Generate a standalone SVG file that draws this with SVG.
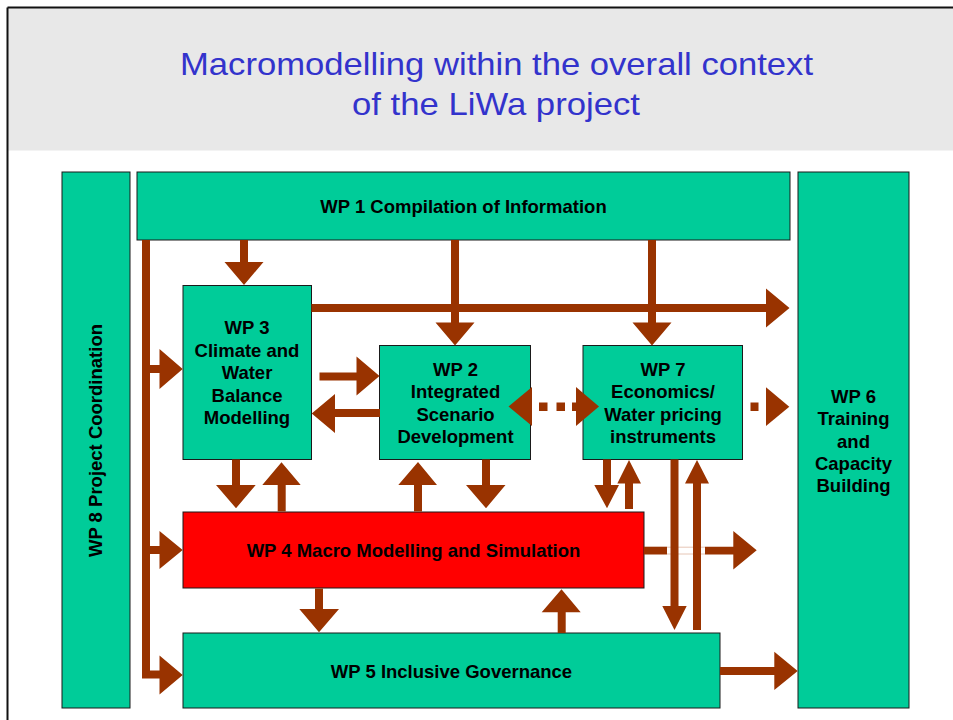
<svg xmlns="http://www.w3.org/2000/svg" width="953" height="720" viewBox="0 0 953 720">
  <style>
    .box { fill: #00cc99; stroke: #1a1a1a; stroke-width: 1; }
    .red { fill: #ff0000; stroke: #1a1a1a; stroke-width: 1; }
    .lbl { font-family: "Liberation Sans", Arial, sans-serif; font-weight: bold; font-size: 18.5px; fill: #000; text-anchor: middle; }
    .title { font-family: "Liberation Sans", Arial, sans-serif; font-size: 32px; fill: #3333cc; text-anchor: middle; }
    .arr { fill: #993300; }
    .faint { stroke: #e6c6b6; stroke-width: 1; fill: none; }
  </style>

  <!-- page background and header band -->
  <rect x="0" y="0" width="953" height="720" fill="#ffffff"/>
  <rect x="8" y="8" width="945" height="142.5" fill="#e8e8e8"/>
  <line x1="7.5" y1="7.5" x2="953" y2="7.5" stroke="#111" stroke-width="2"/>
  <line x1="7.5" y1="7.5" x2="7.5" y2="720" stroke="#111" stroke-width="2"/>

  <g id="title">
    <text class="title" x="496.5" y="75" textLength="633" lengthAdjust="spacingAndGlyphs">Macromodelling within the overall context</text>
    <text class="title" x="496" y="115" textLength="288" lengthAdjust="spacingAndGlyphs">of the LiWa project</text>
  </g>

  <!-- work packages -->
  <g id="wp8">
    <rect class="box" x="62" y="172" width="68" height="536"/>
    <text class="lbl" transform="translate(102 440.5) rotate(-90)" x="0" y="0">WP 8 Project Coordination</text>
  </g>
  <g id="wp1">
    <rect class="box" x="137" y="172" width="653" height="68"/>
    <text class="lbl" x="463.5" y="213">WP 1 Compilation of Information</text>
  </g>
  <g id="wp6">
    <rect class="box" x="798" y="172" width="111" height="536"/>
    <text class="lbl" x="853.5" y="402.5">WP 6</text>
    <text class="lbl" x="853.5" y="425">Training</text>
    <text class="lbl" x="853.5" y="447.5">and</text>
    <text class="lbl" x="853.5" y="470">Capacity</text>
    <text class="lbl" x="853.5" y="492">Building</text>
  </g>
  <g id="wp3">
    <rect class="box" x="183" y="285.5" width="128.5" height="174"/>
    <text class="lbl" x="247" y="334">WP 3</text>
    <text class="lbl" x="247" y="356.5">Climate and</text>
    <text class="lbl" x="247" y="379">Water</text>
    <text class="lbl" x="247" y="401.5">Balance</text>
    <text class="lbl" x="247" y="424">Modelling</text>
  </g>
  <g id="wp2">
    <rect class="box" x="379.5" y="345.5" width="151" height="114"/>
    <text class="lbl" x="455.5" y="375.5">WP 2</text>
    <text class="lbl" x="455.5" y="398">Integrated</text>
    <text class="lbl" x="455.5" y="420.5">Scenario</text>
    <text class="lbl" x="455.5" y="443">Development</text>
  </g>
  <g id="wp7">
    <rect class="box" x="583" y="345.5" width="159.5" height="114"/>
    <text class="lbl" x="663" y="375.5">WP 7</text>
    <text class="lbl" x="663" y="398">Economics/</text>
    <text class="lbl" x="663" y="420.5">Water pricing</text>
    <text class="lbl" x="663" y="443">instruments</text>
  </g>
  <g id="wp4">
    <rect class="red" x="183" y="512" width="461" height="76"/>
    <text class="lbl" x="413.5" y="556.5">WP 4 Macro Modelling and Simulation</text>
  </g>
  <g id="wp5">
    <rect class="box" x="183" y="633" width="537" height="75"/>
    <text class="lbl" x="451.5" y="678">WP 5 Inclusive Governance</text>
  </g>

  <!-- block arrows between work packages -->
  <g id="connectors">
    <!-- WP1 trunk down the left side, branching into WP3, WP4, WP5 -->
    <path class="arr" d="M142,240 H150 V365 H159.5 V349 L182.7,369 L159.5,389 V373 H150 V546 H159.5 V531 L182.7,550 L159.5,569 V554 H150 V670.5 H159.5 V655.5 L182.7,675 L159.5,694.5 V678.5 H142 Z"/>
    <!-- WP1 -> WP3 -->
    <path class="arr" d="M240,240 H248 V262 H263.5 L244,285 L224.5,262 H240 Z"/>
    <!-- WP3 -> WP6 -->
    <path class="arr" d="M311.5,304 H766 V288.5 L789.5,308 L766,327.5 V312 H311.5 Z"/>
    <!-- WP1 -> WP2 -->
    <path class="arr" d="M451,240 H459 V322.5 H474.5 L455,345.5 L435.5,322.5 H451 Z"/>
    <!-- WP1 -> WP7 -->
    <path class="arr" d="M648,240 H656 V322.5 H671.5 L652,345.5 L632.5,322.5 H648 Z"/>
    <!-- WP3 -> WP2 -->
    <path class="arr" d="M319.5,372.5 H356.5 V356.5 L379.5,376 L356.5,395.5 V380.5 H319.5 Z"/>
    <!-- WP2 -> WP3 -->
    <path class="arr" d="M380,409 H335 V394 L311.7,413.5 L335,433 V417 H380 Z"/>
    <!-- WP2 <-> WP7, dotted -->
    <path class="arr" d="M532,387 L508.5,406.5 L532,426 Z"/>
    <rect class="arr" x="539" y="402.5" width="8.5" height="8.5"/>
    <rect class="arr" x="556.5" y="402.5" width="8.5" height="8.5"/>
    <rect class="arr" x="572" y="402.5" width="4.5" height="8.5"/>
    <path class="arr" d="M576,387 L599,406.5 L576,426 Z"/>
    <!-- WP7 -> WP6, dotted -->
    <rect class="arr" x="750.5" y="402.5" width="8" height="8.5"/>
    <path class="arr" d="M766,387.3 L789.3,406.7 L766,426 Z"/>
    <!-- WP3 -> WP4 -->
    <path class="arr" d="M232,459.5 H240 V485 H255.7 L236,508.3 L216,485 H232 Z"/>
    <!-- WP4 -> WP3 -->
    <path class="arr" d="M277.7,511.5 H285.7 V485 H300.7 L281.5,462.3 L262.3,485 H277.7 Z"/>
    <!-- WP4 -> WP2 -->
    <path class="arr" d="M414,511.5 H422 V485 H437 L418,462 L398.3,485 H414 Z"/>
    <!-- WP2 -> WP4 -->
    <path class="arr" d="M482,459.5 H490 V485 H505.5 L486,508.3 L466,485 H482 Z"/>
    <!-- WP7 -> WP4 -->
    <path class="arr" d="M603,459.5 H611 V485 H619 L607,508.3 L594.3,485 H603 Z"/>
    <!-- WP4 -> WP7 -->
    <path class="arr" d="M625,509 H633 V483.5 H641 L629,460 L617.3,483.5 H625 Z"/>
    <!-- WP4 -> WP6, passing behind the long vertical arrows -->
    <rect class="arr" x="644" y="546.7" width="23" height="7.8"/>
    <line class="faint" x1="667" y1="547.2" x2="705" y2="547.2"/>
    <line class="faint" x1="667" y1="554" x2="705" y2="554"/>
    <path class="arr" d="M705,546.7 H733.3 V531 L756.7,550.3 L733.3,569.5 V554.5 H705 Z"/>
    <!-- WP7 -> WP5 -->
    <path class="arr" d="M670.5,459.5 H678.5 V606 H686.7 L674.5,630 L662.3,606 H670.5 Z"/>
    <!-- WP5 -> WP7 -->
    <path class="arr" d="M693,630 H701 V483.5 H709 L697,460 L685,483.5 H693 Z"/>
    <!-- WP4 -> WP5 -->
    <path class="arr" d="M315,588.5 H323 V609 H339 L319,632.3 L299.3,609 H315 Z"/>
    <!-- WP5 -> WP4 -->
    <path class="arr" d="M557.7,633 H565.7 V612.3 H580.7 L561.5,589.3 L541.7,612.3 H557.7 Z"/>
    <!-- WP5 -> WP6 -->
    <path class="arr" d="M720,667 H774.3 V651.7 L797.7,671 L774.3,690 V675 H720 Z"/>
  </g>
</svg>
